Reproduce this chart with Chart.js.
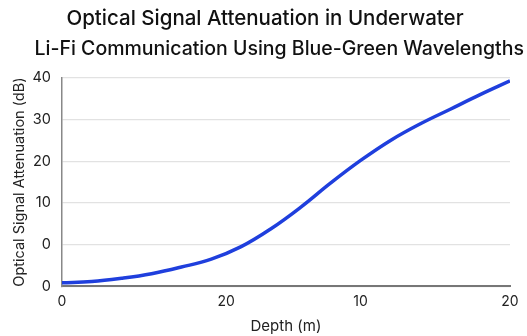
<!DOCTYPE html>
<html>
<head>
<meta charset="utf-8">
<script src="https://cdn.jsdelivr.net/npm/chart.js@4/dist/chart.umd.min.js"></script>
<style>
  html, body { margin: 0; padding: 0; background: #fff; }
  #wrap { width: 527px; height: 336px; }
</style>
</head>
<body>
<div id="wrap"><canvas id="attChart"></canvas></div>
<script>
// depth positions along the axis and attenuation
const depth = [0, 2, 4, 6, 8, 10, 12, 14, 16, 18, 20, 22, 24, 26, 28, 30];
const attenuation = [-9.2, -8.9, -8.1, -7.0, -5.4, -3.5, -0.5, 3.8, 9.0, 14.8, 20.2, 25.0, 29.0, 32.5, 36.0, 39.3];

// tick positions and the labels printed at them
const xTickPos = [0, 11, 20, 30];
const xTickLabels = ["0", "20", "10", "20"];
const yTickPos = [-10, 0, 10, 20, 30, 40];
const yTickLabels = ["0", "0", "10", "20", "30", "40"];

const titleLines = ["Optical Signal Attenuation in Underwater", "Li-Fi Communication Using Blue-Green Wavelengths"];

const ctx = document.getElementById("attChart").getContext("2d");
new Chart(ctx, {
  type: "line",
  data: {
    datasets: [{
      data: depth.map((d, i) => ({ x: d, y: attenuation[i] })),
      borderColor: "#1f3fdd",
      borderWidth: 3.5,
      pointRadius: 0,
      tension: 0.4,
      fill: false
    }]
  },
  options: {
    responsive: true,
    maintainAspectRatio: false,
    animation: false,
    layout: { padding: { left: 6, right: 3, top: 4, bottom: 1 } },
    plugins: {
      legend: { display: false },
      tooltip: { enabled: false },
      title: {
        display: true,
        text: titleLines[0],
        color: "#111",
        font: { family: "Inter", size: 20.5, weight: "500" },
        padding: { top: 3, bottom: 2 }
      },
      subtitle: {
        display: true,
        text: titleLines[1],
        align: "end",
        color: "#111",
        font: { family: "Inter", size: 19.5, weight: "500" },
        padding: { top: 4, bottom: 17 }
      }
    },
    scales: {
      x: {
        type: "linear",
        min: 0,
        max: 30,
        afterBuildTicks: (axis) => { axis.ticks = xTickPos.map(v => ({ value: v })); },
        afterFit: (axis) => { axis.paddingRight = 17; },
        ticks: {
          autoSkip: false,
          maxRotation: 0,
          padding: 7,
          color: "#222",
          font: { family: "Inter", size: 14 },
          callback: (v) => xTickLabels[xTickPos.indexOf(v)]
        },
        grid: { display: false, drawTicks: false },
        border: { display: true, color: "#777", width: 2 },
        title: {
          display: true,
          text: "Depth (m)",
          color: "#222",
          font: { family: "Inter", size: 15 },
          padding: { top: 0, bottom: 0 }
        }
      },
      y: {
        min: -10,
        max: 40,
        afterBuildTicks: (axis) => { axis.ticks = yTickPos.map(v => ({ value: v })); },
        ticks: {
          color: "#222",
          padding: 11,
          font: { family: "Inter", size: 14.5 },
          callback: (v) => yTickLabels[yTickPos.indexOf(v)]
        },
        grid: { color: "#e2e2e2", lineWidth: 1.2, drawTicks: false },
        border: { display: true, color: "#888", width: 1.5 },
        title: {
          display: true,
          text: "Optical Signal Attenuation (dB)",
          color: "#222",
          font: { family: "Inter", size: 14.5 },
          padding: { top: 5, bottom: -7 }
        }
      }
    }
  }
});
</script>
</body>
</html>
